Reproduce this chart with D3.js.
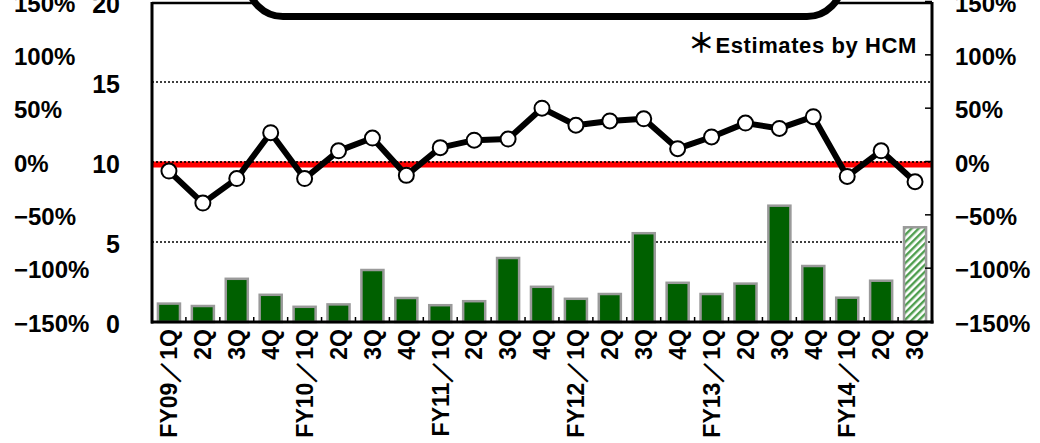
<!DOCTYPE html>
<html>
<head>
<meta charset="utf-8">
<script src="https://cdn.jsdelivr.net/npm/d3@7"></script>
<style>
  html, body { margin: 0; padding: 0; background: #fff; }
  svg { display: block; }
  text { font-family: "Liberation Sans", Arial, sans-serif; font-weight: bold; fill: #000; }
</style>
</head>
<body>
<svg id="chart" width="1040" height="443"></svg>
<script>
// ---- data ----
const categories = ["FY09／1Q","2Q","3Q","4Q","FY10／1Q","2Q","3Q","4Q","FY11／1Q","2Q","3Q","4Q",
                    "FY12／1Q","2Q","3Q","4Q","FY13／1Q","2Q","3Q","4Q","FY14／1Q","2Q","3Q"];
const barValues = [1.15, 1.0, 2.7, 1.7, 0.95, 1.1, 3.25, 1.5, 1.05, 1.3, 4.0, 2.2,
                   1.45, 1.75, 5.55, 2.45, 1.75, 2.4, 7.27, 3.5, 1.52, 2.58, 5.92];
const estimateFlags = [false,false,false,false,false,false,false,false,false,false,false,false,
                       false,false,false,false,false,false,false,false,false,false,true];
const growthValues = [-9, -39, -16, 27, -16, 10, 22, -13, 13, 20, 21, 50,
                      34, 38, 40, 12, 23, 36, 31, 42, -14, 10, -19];
const leftTicks = [0, 5, 10, 15, 20];
const pctTicks = [-150, -100, -50, 0, 50, 100, 150];
const gridValues = [5, 10, 15];
const noteMark = "＊";
const noteText = "Estimates by HCM";

// ---- layout ----
const L = 152, R = 932, T = 2, B = 322;
const svg = d3.select("#chart");

const x = d3.scaleBand().domain(d3.range(categories.length)).range([L, R])
  .paddingInner(0.35).paddingOuter(0.175);
const y = d3.scaleLinear().domain([0, 20]).range([B, T]);
const yp = d3.scaleLinear().domain([-150, 150]).range([B - 0.5, T - 0.5]);
const cx = i => x(i) + x.bandwidth() / 2;

// hatch pattern
const defs = svg.append("defs");
const pat = defs.append("pattern").attr("id", "hatch")
  .attr("patternUnits", "userSpaceOnUse").attr("width", 5).attr("height", 5)
  .attr("patternTransform", "rotate(45)");
pat.append("rect").attr("width", 5).attr("height", 5).attr("fill", "#fff");
pat.append("rect").attr("x", 0).attr("width", 2.4).attr("height", 5).attr("fill", "#4f9e4f");

// gridlines
svg.append("g").selectAll("line").data(gridValues).join("line")
  .attr("x1", L).attr("x2", R).attr("y1", d => y(d)).attr("y2", d => y(d))
  .attr("stroke", "#000").attr("stroke-width", 1.6).attr("stroke-dasharray", "2,2");

// red zero line
svg.append("line").attr("x1", L).attr("x2", R)
  .attr("y1", yp(0) + 3).attr("y2", yp(0) + 3)
  .attr("stroke", "#ff0000").attr("stroke-width", 6);
// dotted grid at 10 on top of red
svg.append("line").attr("x1", L).attr("x2", R).attr("y1", y(10)).attr("y2", y(10))
  .attr("stroke", "#000").attr("stroke-width", 1.6).attr("stroke-dasharray", "2,2");

// bars
svg.append("g").selectAll("rect").data(barValues).join("rect")
  .attr("x", (d, i) => x(i)).attr("width", x.bandwidth())
  .attr("y", d => y(d)).attr("height", d => B - y(d))
  .attr("fill", (d, i) => estimateFlags[i] ? "url(#hatch)" : "#006000")
  .attr("stroke", "#9a9a9a").attr("stroke-width", 2.5);

// growth line
const line = d3.line().x((d, i) => cx(i)).y(d => yp(d));
svg.append("path").datum(growthValues).attr("d", line)
  .attr("fill", "none").attr("stroke", "#000").attr("stroke-width", 6)
  .attr("stroke-linejoin", "round");
svg.append("g").selectAll("circle").data(growthValues).join("circle")
  .attr("cx", (d, i) => cx(i)).attr("cy", d => yp(d)).attr("r", 7.5)
  .attr("fill", "#fff").attr("stroke", "#000").attr("stroke-width", 2);

// frame
svg.append("line").attr("x1", L).attr("x2", R).attr("y1", T + 1).attr("y2", T + 1)
  .attr("stroke", "#000").attr("stroke-width", 2.5);
svg.append("line").attr("x1", L - 1).attr("x2", R + 1.5).attr("y1", B).attr("y2", B)
  .attr("stroke", "#000").attr("stroke-width", 3);
svg.append("line").attr("x1", L).attr("x2", L).attr("y1", T).attr("y2", B + 1.5)
  .attr("stroke", "#000").attr("stroke-width", 3);
svg.append("line").attr("x1", R).attr("x2", R).attr("y1", T).attr("y2", B + 1.5)
  .attr("stroke", "#000").attr("stroke-width", 3);

// x ticks between categories
svg.append("g").selectAll("line").data(d3.range(1, categories.length)).join("line")
  .attr("x1", i => L + i * (R - L) / categories.length)
  .attr("x2", i => L + i * (R - L) / categories.length)
  .attr("y1", B).attr("y2", B - 5)
  .attr("stroke", "#000").attr("stroke-width", 1.5);

// right axis ticks (inward)
svg.append("g").selectAll("line").data(pctTicks).join("line")
  .attr("x1", R - 7).attr("x2", R).attr("y1", d => yp(d)).attr("y2", d => yp(d))
  .attr("stroke", "#000").attr("stroke-width", 1.5);

// left numeric labels
svg.append("g").selectAll("text").data(leftTicks).join("text")
  .attr("x", 120).attr("y", d => y(d)).attr("dy", "0.42em")
  .attr("text-anchor", "end").attr("font-size", 25).text(d => d);

const fmtPct = d => (d < 0 ? "−" + Math.abs(d) : d) + "%";
// far-left pct labels
svg.append("g").selectAll("text").data(pctTicks).join("text")
  .attr("x", 14).attr("y", d => yp(d)).attr("dy", "0.42em")
  .attr("text-anchor", "start").attr("font-size", 24).text(fmtPct);
// right pct labels
svg.append("g").selectAll("text").data(pctTicks).join("text")
  .attr("x", 955).attr("y", d => yp(d)).attr("dy", "0.42em")
  .attr("text-anchor", "start").attr("font-size", 24).text(fmtPct);

// category labels (rotated)
svg.append("g").selectAll("text").data(categories).join("text")
  .attr("transform", (d, i) => `translate(${cx(i)},329) rotate(-90)`)
  .attr("dy", "0.36em").attr("text-anchor", "end").attr("font-size", 23)
  .text(d => d);

// top rounded box
svg.append("rect").attr("x", 248).attr("y", -80).attr("width", 594).attr("height", 96.5)
  .attr("rx", 35).attr("ry", 35)
  .attr("fill", "#fff").attr("stroke", "#000").attr("stroke-width", 7);

// note
const note = svg.append("text").attr("x", 917).attr("y", 53).attr("text-anchor", "end")
  .attr("font-size", 22).attr("letter-spacing", 0.6);
note.append("tspan").style("font-family", "'Noto Sans CJK JP', sans-serif")
  .attr("font-size", 27).text(noteMark);
note.append("tspan").text(noteText);
</script>
</body>
</html>
